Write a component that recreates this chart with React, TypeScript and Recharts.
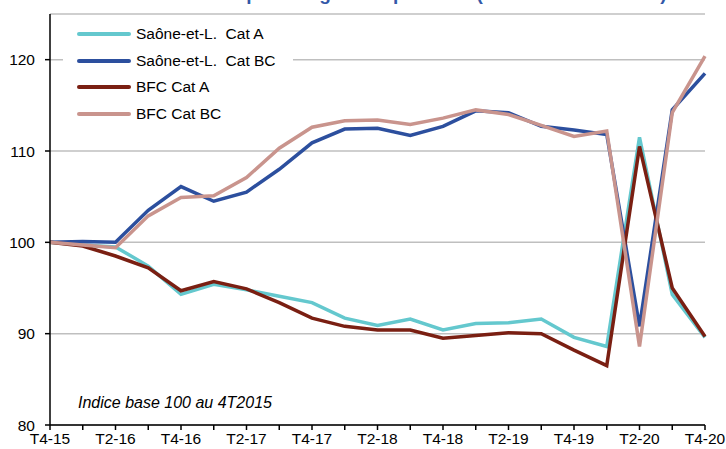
import { CartesianGrid, Line, LineChart, XAxis, YAxis } from 'recharts'

const quarters = [
  'T4-15', 'T1-16', 'T2-16', 'T3-16', 'T4-16', 'T1-17', 'T2-17', 'T3-17', 'T4-17',
  'T1-18', 'T2-18', 'T3-18', 'T4-18', 'T1-19', 'T2-19', 'T3-19', 'T4-19',
  'T1-20', 'T2-20', 'T3-20', 'T4-20',
]

const saoneCatA = [
  100, 99.7, 99.5, 97.4, 94.3, 95.4, 94.8, 94.1, 93.4, 91.7, 90.9, 91.6, 90.4,
  91.1, 91.2, 91.6, 89.6, 88.6, 111.5, 94.3, 89.6,
]
const saoneCatBC = [
  100, 100.1, 100.0, 103.5, 106.1, 104.5, 105.5, 108.0, 110.9, 112.4, 112.5, 111.7,
  112.7, 114.4, 114.2, 112.7, 112.3, 111.8, 90.8, 114.5, 118.5,
]
const bfcCatA = [
  100, 99.6, 98.5, 97.2, 94.7, 95.7, 94.9, 93.4, 91.7, 90.8, 90.4, 90.4, 89.5,
  89.8, 90.1, 90.0, 88.2, 86.5, 110.5, 95.0, 89.7,
]
const bfcCatBC = [
  100, 99.7, 99.4, 102.9, 104.9, 105.1, 107.1, 110.3, 112.6, 113.3, 113.4, 112.9,
  113.6, 114.5, 114.0, 112.8, 111.6, 112.2, 88.6, 114.2, 120.4,
]

const yTicks = [80, 90, 100, 110, 120]

const series = [
  { key: 'saoneA', name: 'Saône-et-L.  Cat A', color: '#64c8ce', values: saoneCatA },
  { key: 'saoneBC', name: 'Saône-et-L.  Cat BC', color: '#2c4f9e', values: saoneCatBC },
  { key: 'bfcA', name: 'BFC Cat A', color: '#7a1f12', values: bfcCatA },
  { key: 'bfcBC', name: 'BFC Cat BC', color: '#c9948d', values: bfcCatBC },
]

const data = quarters.map((q, i) => {
  const row: Record<string, string | number> = { q }
  series.forEach((s) => {
    row[s.key] = s.values[i]
  })
  return row
})

const font = '"Liberation Sans", Arial, sans-serif'

// tick mark on every quarter, label on every second one
function XTick(props: any) {
  const { x, y, payload, index } = props
  return (
    <g>
      <line x1={x} y1={y - 6} x2={x} y2={y - 1} stroke="#000" strokeWidth={1.5} />
      {index % 2 === 0 && (
        <text x={x} y={y + 2} dy="0.71em" textAnchor="middle" fontSize={15.5} fontFamily={font} fill="#000">
          {payload.value}
        </text>
      )}
    </g>
  )
}

export default function App() {
  return (
    <div style={{ position: 'relative', width: 726, height: 449, overflow: 'hidden', background: '#fff' }}>
      <style>{'body{margin:0}'}</style>
      <div
        style={{
          position: 'absolute',
          top: -16,
          left: 90,
          fontFamily: font,
          fontWeight: 'bold',
          fontSize: 19,
          lineHeight: '20px',
          color: '#3358a8',
          whiteSpace: 'nowrap',
        }}
      >
        Effectifs salariés par catégorie et par zone (base 100 au 4T2015)
      </div>
      <LineChart width={726} height={449} data={data} margin={{ top: 14, right: 21, bottom: 0, left: 8 }}>
        <CartesianGrid horizontal vertical={false} stroke="#bfbfbf" strokeWidth={1.5} />
        <XAxis
          dataKey="q"
          interval={0}
          height={24}
          tickLine={false}
          tickSize={6}
          tickMargin={0}
          axisLine={{ stroke: '#000', strokeWidth: 1.5 }}
          tick={<XTick />}
        />
        <YAxis
          domain={[80, 125]}
          ticks={yTicks}
          width={42}
          tickSize={5}
          tickMargin={10}
          axisLine={{ stroke: '#000', strokeWidth: 1.5 }}
          tickLine={{ stroke: '#000', strokeWidth: 1.5 }}
          tick={{ fill: '#000', fontSize: 15.5, fontFamily: font }}
        />
        {series.map((s) => (
          <Line
            key={s.key}
            dataKey={s.key}
            name={s.name}
            type="linear"
            stroke={s.color}
            strokeWidth={3.5}
            dot={false}
            activeDot={false}
            isAnimationActive={false}
          />
        ))}
      </LineChart>
      <div
        style={{
          position: 'absolute',
          left: 63,
          top: 20,
          width: 230,
          height: 108,
          background: '#fff',
          fontFamily: font,
          fontSize: 15.5,
        }}
      >
        {series.map((s, i) => (
          <div
            key={s.key}
            style={{ position: 'absolute', left: 0, top: 3 + i * 26.7, height: 22, display: 'flex', alignItems: 'center' }}
          >
            <span style={{ display: 'inline-block', marginLeft: 14, width: 54, height: 4, borderRadius: 2, background: s.color }} />
            <span style={{ marginLeft: 5, whiteSpace: 'pre' }}>{s.name}</span>
          </div>
        ))}
      </div>
      <div
        style={{
          position: 'absolute',
          left: 78,
          top: 394,
          fontFamily: font,
          fontStyle: 'italic',
          fontSize: 16,
          whiteSpace: 'nowrap',
        }}
      >
        Indice base 100 au 4T2015
      </div>
    </div>
  )
}
